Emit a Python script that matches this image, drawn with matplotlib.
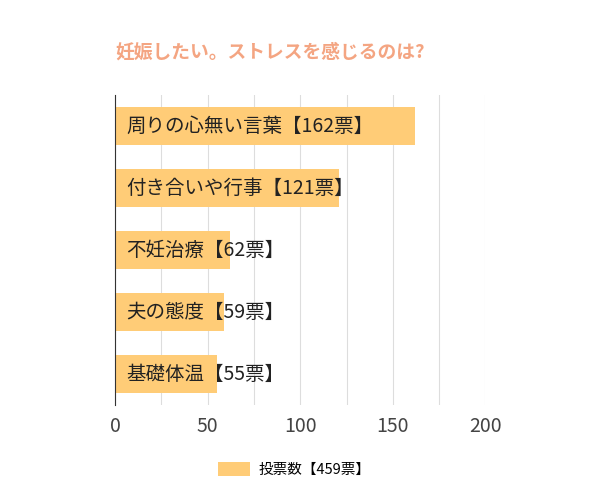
import matplotlib.pyplot as plt

plt.rcParams['font.family'] = ['Noto Sans CJK JP', 'DejaVu Sans']

labels = ["周りの心無い言葉", "付き合いや行事", "不妊治療", "夫の態度", "基礎体温"]
values = [162, 121, 62, 59, 55]
title = "妊娠したい。ストレスを感じるのは?"
series_name = "投票数【459票】"

fig = plt.figure(figsize=(6, 5), dpi=100)
ax = fig.add_axes([0.192, 0.19, 0.617, 0.62])

pos = list(range(len(values)))
bars = ax.barh(pos, values, height=0.62, color="#FFCC77", label=series_name, zorder=2)
for p, lab, v in zip(pos, labels, values):
    ax.text(6, p, f"{lab}【{v}票】", va="center", ha="left", fontsize=14,
            color="#222222", zorder=3)

ax.set_ylim(len(values) - 0.5, -0.5)
ax.set_xlim(0, 200)
ax.set_xticks([0, 50, 100, 150, 200])
ax.set_xticks(range(0, 201, 25), minor=True)
ax.grid(True, axis="x", which="both", color="#dddddd", linewidth=0.8, zorder=0)
ax.set_yticks([])
for s in ["top", "right", "bottom"]:
    ax.spines[s].set_visible(False)
ax.spines["left"].set_color("#333333")
ax.tick_params(axis="x", which="both", length=0, labelsize=14, colors="#444444", pad=8)

fig.text(0.192, 0.895, title, fontsize=13.5, fontweight="bold", color="#F4A582", ha="left", va="center")

fig.legend(handles=[bars], labels=[series_name], loc="center", bbox_to_anchor=(0.49, 0.062),
           frameon=False, fontsize=10.5, handlelength=2.2, handleheight=1.1, handletextpad=0.6)

fig.savefig("out.png")
